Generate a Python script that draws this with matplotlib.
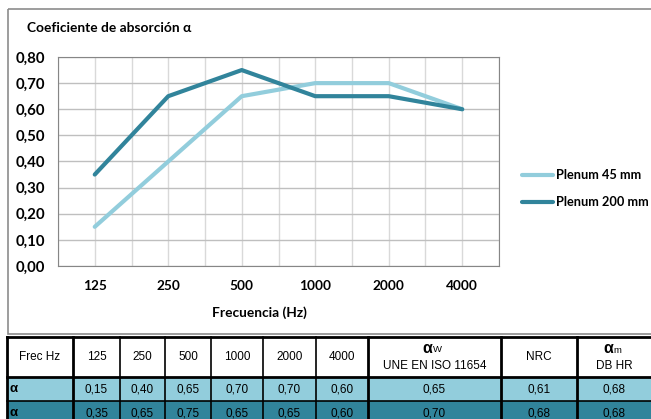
import matplotlib.pyplot as plt
from matplotlib.patches import Rectangle

plt.rcParams["font.family"] = ["Lato", "DejaVu Sans"]

frecuencias = ["125", "250", "500", "1000", "2000", "4000"]
plenum_45 = [0.15, 0.40, 0.65, 0.70, 0.70, 0.60]
plenum_200 = [0.35, 0.65, 0.75, 0.65, 0.65, 0.60]
etiquetas = ["Plenum 45 mm", "Plenum 200 mm"]
colores = ["#92cddc", "#31849b"]

# resumen de la tabla
resumen_45 = ["0,65", "0,61", "0,68"]
resumen_200 = ["0,70", "0,68", "0,68"]

W, H = 651, 419
fig = plt.figure(figsize=(W / 100, H / 100), dpi=100)

# capa en pixeles para marco y tabla
bg = fig.add_axes([0, 0, 1, 1])
bg.set_xlim(0, W)
bg.set_ylim(H, 0)
bg.axis("off")
bg.add_patch(Rectangle((7.5, 9), W, 325, fill=False, ec="#8c8c8c", lw=1.2))

# grafico
x0, x1, y0, y1 = 58, 499, 57, 266
ax = fig.add_axes([x0 / W, 1 - y1 / H, (x1 - x0) / W, (y1 - y0) / H])
xs = range(len(frecuencias))
for serie, lab, col in zip([plenum_45, plenum_200], etiquetas, colores):
    ax.plot(xs, serie, color=col, lw=3, label=lab, solid_capstyle="round", zorder=3)
ax.set_xlim(-0.5, len(frecuencias) - 0.5)
ax.set_ylim(0, 0.8)
ax.set_yticks([i / 10 for i in range(9)])
ax.yaxis.set_major_formatter(plt.FuncFormatter(lambda v, p: ("%.2f" % v).replace(".", ",")))
ax.set_xticks(list(xs))
ax.set_xticklabels(frecuencias)
ax.set_xticks([i + 0.5 for i in range(-1, len(frecuencias))], minor=True)
ax.tick_params(axis="y", length=0, pad=9, labelsize=10.8)
ax.tick_params(axis="x", which="both", length=0, pad=10, labelsize=9.8)
for t in ax.get_xticklabels() + ax.get_yticklabels():
    t.set_fontweight("bold")
ax.grid(True, axis="y", color="#bfbfbf", lw=1)
ax.grid(True, axis="x", which="both", color="#d9d9d9", lw=1)
for s in ax.spines.values():
    s.set_color("#868686")
ax.set_axisbelow(True)

fig.text(27 / W, 1 - 28 / H, "Coeficiente de absorción α", fontsize=9.9,
         fontweight="bold", va="center", ha="left")
fig.text(259 / W, 1 - 313 / H, "Frecuencia (Hz)", fontsize=9.9,
         fontweight="bold", va="center", ha="center")

# leyenda
for i, (lab, col) in enumerate(zip(etiquetas, colores)):
    yy = 175 + i * 27
    bg.plot([522, 553], [yy, yy], color=col, lw=3, solid_capstyle="round")
    bg.text(556, yy, lab, fontsize=9.2, fontweight="bold", va="center", ha="left")

# tabla
cols = [7, 73, 120, 165, 211, 263, 316, 368, 501, 577, 660]
filas = [337, 377, 401, 426]
tf = ["Liberation Sans", "DejaVu Sans"]
fs = 8.5
bg.add_patch(Rectangle((cols[0], filas[1]), cols[-1] - cols[0], filas[2] - filas[1], color=colores[0], lw=0))
bg.add_patch(Rectangle((cols[0], filas[2]), cols[-1] - cols[0], filas[3] - filas[2], color=colores[1], lw=0))
for c in cols:
    thick = c in (7, 73, 368, 501, 577)
    bg.plot([c, c], [filas[0], H], color="black", lw=2 if thick else 1.2)
for f in filas[:3]:
    bg.plot([cols[0], W], [f, f], color="black", lw=2 if f != 401 else 1.2)

ymid = (filas[0] + filas[1]) / 2
cx = [(cols[i] + cols[i + 1]) / 2 for i in range(len(cols) - 1)]
cx[-1] = (577 + 651) / 2
bg.text(cx[0], ymid, "Frec Hz", family=tf, fontsize=fs, ha="center", va="center")
for i, f in enumerate(frecuencias):
    bg.text(cx[i + 1], ymid, f, family=tf, fontsize=fs, ha="center", va="center")
bg.text(cx[7] - 2, 348, "α", family=tf, fontsize=11.5, fontweight="bold", ha="right", va="center")
bg.text(cx[7] - 2, 349, "W", family=tf, fontsize=6.8, ha="left", va="center")
bg.text(cx[7], 366, "UNE EN ISO 11654", family=tf, fontsize=fs, ha="center", va="center")
bg.text(cx[8], ymid, "NRC", family=tf, fontsize=fs, ha="center", va="center")
bg.text(cx[9] - 1, 348, "α", family=tf, fontsize=11.5, fontweight="bold", ha="right", va="center")
bg.text(cx[9] - 1, 350, "m", family=tf, fontsize=6.8, ha="left", va="center")
bg.text(cx[9], 366, "DB HR", family=tf, fontsize=fs, ha="center", va="center")

for r, (serie, resumen) in enumerate([(plenum_45, resumen_45), (plenum_200, resumen_200)]):
    ym = (filas[r + 1] + filas[r + 2]) / 2 if r == 0 else 413
    bg.text(10, ym, "α", family=tf, fontsize=9.5, fontweight="bold", ha="left", va="center")
    for i, v in enumerate(serie):
        bg.text(cx[i + 1], ym, ("%.2f" % v).replace(".", ","), family=tf, fontsize=fs, ha="center", va="center")
    for j, v in enumerate(resumen):
        bg.text(cx[7 + j], ym, v, family=tf, fontsize=fs, ha="center", va="center")

fig.savefig("out.png", dpi=100)
